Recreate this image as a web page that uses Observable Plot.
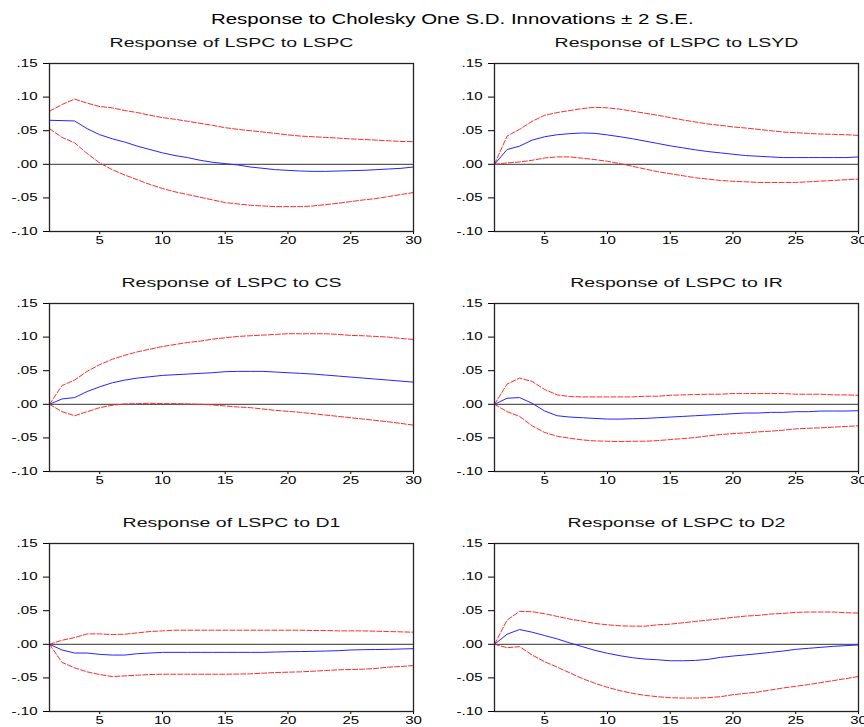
<!DOCTYPE html>
<html><head><meta charset="utf-8">
<script src="https://cdn.jsdelivr.net/npm/d3@7"></script>
<script src="https://cdn.jsdelivr.net/npm/@observablehq/plot@0.6"></script>
<style>
body{margin:0;background:#fff;}
#root{position:relative;width:864px;height:727px;overflow:hidden;font-family:"Liberation Sans",Arial,sans-serif;background:#fff;}
#title{position:absolute;top:12px;left:0;width:905px;text-align:center;font-size:14px;line-height:14px;color:#000;white-space:nowrap;}
#title span{display:inline-block;transform:scaleX(1.46);transform-origin:center;}
.panel{position:absolute;}
</style></head><body>
<div id="root"><div id="title"><span>Response to Cholesky One S.D. Innovations ± 2 S.E.</span></div></div>
<script>
const periods = d3.range(1, 31);
const panelTitles = ["Response of LSPC to LSPC","Response of LSPC to LSYD","Response of LSPC to CS","Response of LSPC to IR","Response of LSPC to D1","Response of LSPC to D2"];
const xTicks = [5,10,15,20,25,30];
const yTicks = [-0.10,-0.05,0,0.05,0.10,0.15];
const yTickLabels = ["-.10","-.05",".00",".05",".10",".15"];

const lspc_resp  = [0.0655,0.065,0.0645,0.053,0.044,0.038,0.033,0.027,0.022,0.017,0.013,0.010,0.006,0.003,0.001,-0.001,-0.004,-0.006,-0.008,-0.009,-0.010,-0.0105,-0.0105,-0.010,-0.0095,-0.009,-0.008,-0.007,-0.006,-0.004];
const lspc_upper = [0.079,0.089,0.097,0.091,0.086,0.084,0.080,0.077,0.073,0.0695,0.067,0.064,0.061,0.058,0.0545,0.052,0.050,0.048,0.046,0.0437,0.042,0.041,0.040,0.039,0.0377,0.037,0.036,0.035,0.034,0.0337];
const lspc_lower = [0.053,0.040,0.032,0.016,0.002,-0.008,-0.016,-0.023,-0.030,-0.036,-0.041,-0.045,-0.049,-0.053,-0.057,-0.059,-0.061,-0.062,-0.063,-0.063,-0.063,-0.062,-0.060,-0.058,-0.0555,-0.053,-0.051,-0.048,-0.045,-0.042];

const lsyd_resp  = [0,0.022,0.027,0.036,0.041,0.044,0.0456,0.0466,0.046,0.0437,0.041,0.038,0.0345,0.031,0.0275,0.0245,0.0215,0.019,0.017,0.015,0.013,0.012,0.011,0.010,0.010,0.010,0.010,0.010,0.010,0.011];
const lsyd_upper = [0,0.042,0.052,0.064,0.073,0.077,0.080,0.083,0.0848,0.084,0.082,0.079,0.076,0.073,0.0695,0.066,0.063,0.060,0.058,0.0556,0.054,0.052,0.050,0.048,0.047,0.046,0.045,0.0445,0.044,0.043];
const lsyd_lower = [0,0.002,0.0035,0.006,0.0094,0.011,0.011,0.009,0.007,0.0045,0.001,-0.003,-0.007,-0.011,-0.014,-0.017,-0.020,-0.022,-0.024,-0.0253,-0.026,-0.027,-0.027,-0.027,-0.027,-0.026,-0.025,-0.024,-0.023,-0.022];

const cs_resp  = [0,0.008,0.010,0.019,0.026,0.032,0.036,0.039,0.041,0.043,0.044,0.045,0.046,0.047,0.0485,0.049,0.049,0.049,0.048,0.047,0.046,0.045,0.0435,0.042,0.0405,0.039,0.0375,0.036,0.0345,0.033];
const cs_upper = [0,0.028,0.036,0.049,0.059,0.067,0.073,0.078,0.082,0.086,0.089,0.092,0.094,0.097,0.099,0.101,0.102,0.103,0.104,0.105,0.105,0.105,0.105,0.104,0.1025,0.102,0.101,0.100,0.098,0.0965];
const cs_lower = [0,-0.011,-0.017,-0.011,-0.005,-0.0015,0.0005,0.001,0.0015,0.001,0.001,0.0005,0,-0.001,-0.0025,-0.004,-0.005,-0.007,-0.009,-0.0105,-0.012,-0.014,-0.016,-0.018,-0.020,-0.022,-0.024,-0.026,-0.0285,-0.031];

const ir_resp  = [0,0.009,0.010,0.0015,-0.010,-0.017,-0.019,-0.020,-0.021,-0.022,-0.022,-0.0215,-0.021,-0.020,-0.019,-0.018,-0.017,-0.016,-0.015,-0.014,-0.013,-0.013,-0.012,-0.012,-0.011,-0.011,-0.010,-0.010,-0.010,-0.0095];
const ir_upper = [0,0.030,0.039,0.034,0.022,0.014,0.0115,0.011,0.011,0.011,0.011,0.011,0.012,0.012,0.0134,0.014,0.0145,0.015,0.015,0.016,0.016,0.016,0.016,0.016,0.015,0.015,0.015,0.014,0.014,0.0134];
const ir_lower = [0,-0.011,-0.018,-0.032,-0.042,-0.0475,-0.0505,-0.053,-0.0545,-0.055,-0.0555,-0.055,-0.055,-0.054,-0.0525,-0.051,-0.0495,-0.047,-0.045,-0.0436,-0.0425,-0.041,-0.040,-0.0385,-0.0366,-0.0357,-0.035,-0.034,-0.033,-0.032];

const d1_resp  = [0,-0.0085,-0.013,-0.013,-0.015,-0.016,-0.016,-0.014,-0.013,-0.012,-0.012,-0.012,-0.012,-0.012,-0.012,-0.012,-0.012,-0.012,-0.0115,-0.011,-0.0108,-0.0105,-0.010,-0.0095,-0.0085,-0.008,-0.0078,-0.0075,-0.007,-0.0065];
const d1_upper = [0,0.006,0.010,0.0155,0.0155,0.0145,0.015,0.017,0.019,0.020,0.021,0.021,0.021,0.021,0.021,0.021,0.021,0.021,0.021,0.021,0.021,0.0205,0.0205,0.020,0.020,0.020,0.0195,0.019,0.0185,0.018];
const d1_lower = [0,-0.027,-0.035,-0.041,-0.045,-0.048,-0.047,-0.046,-0.045,-0.0445,-0.0445,-0.0445,-0.0445,-0.0445,-0.0445,-0.0443,-0.044,-0.043,-0.042,-0.0415,-0.041,-0.040,-0.039,-0.038,-0.0375,-0.037,-0.036,-0.034,-0.033,-0.0317];

const d2_resp  = [0,0.015,0.022,0.018,0.013,0.008,0.002,-0.0035,-0.009,-0.0134,-0.017,-0.020,-0.022,-0.023,-0.0245,-0.0245,-0.024,-0.0225,-0.0195,-0.0175,-0.0158,-0.014,-0.012,-0.010,-0.0075,-0.006,-0.0045,-0.003,-0.002,-0.001];
const d2_upper = [0,0.036,0.049,0.0485,0.0455,0.0415,0.0375,0.0345,0.031,0.029,0.0275,0.027,0.027,0.029,0.030,0.032,0.034,0.036,0.038,0.040,0.042,0.043,0.045,0.046,0.0475,0.048,0.048,0.048,0.047,0.0465];
const d2_lower = [0,-0.005,-0.0035,-0.016,-0.026,-0.034,-0.0425,-0.051,-0.058,-0.064,-0.069,-0.073,-0.076,-0.078,-0.0795,-0.080,-0.080,-0.0795,-0.078,-0.075,-0.073,-0.071,-0.068,-0.065,-0.0625,-0.060,-0.057,-0.054,-0.051,-0.048];

const series = [
  [lspc_resp, lspc_upper, lspc_lower],
  [lsyd_resp, lsyd_upper, lsyd_lower],
  [cs_resp, cs_upper, cs_lower],
  [ir_resp, ir_upper, ir_lower],
  [d1_resp, d1_upper, d1_lower],
  [d2_resp, d2_upper, d2_lower]
];

const root = document.getElementById("root");
const labelMap = new Map(yTicks.map((v, i) => [v, yTickLabels[i]]));

series.forEach(([resp, upper, lower], i) => {
  const col = i % 2, row = Math.floor(i / 2);
  const data = periods.map((p, k) => ({p, resp: resp[k], upper: upper[k], lower: lower[k]}));
  const h = row === 2 ? 216 : 240;
  const plot = Plot.plot({
    width: 432, height: h,
    marginLeft: col === 0 ? 49 : 62,
    marginRight: col === 0 ? 19 : 6,
    marginTop: 33,
    marginBottom: h - 33 - 168,
    style: {fontFamily: "'Liberation Sans', Arial, sans-serif", fontSize: "10px", color: "#000", background: "transparent", overflow: "visible"},
    x: {domain: [1, 30], ticks: xTicks, tickSize: 3, tickPadding: 2, label: null},
    y: {domain: [-0.10, 0.15], ticks: yTicks, tickSize: 6, tickPadding: 6, label: null, tickFormat: d => labelMap.get(Math.round(d * 100) / 100)},
    marks: [
      Plot.ruleY([0], {stroke: "#333", strokeWidth: 1}),
      Plot.line(data, {x: "p", y: "upper", stroke: "#ff2a2a", strokeWidth: 1, strokeDasharray: "5,2"}),
      Plot.line(data, {x: "p", y: "lower", stroke: "#ff2a2a", strokeWidth: 1, strokeDasharray: "5,2"}),
      Plot.line(data, {x: "p", y: "resp", stroke: "#2424ff", strokeWidth: 1}),
      Plot.frame({stroke: "#222", strokeWidth: 1.3}),
      Plot.text([panelTitles[i]], {text: d => d, frameAnchor: "top", lineAnchor: "middle", dy: -21, fontSize: 12.5, fontWeight: "normal", fill: "#111"})
    ]
  });
  plot.classList.add("panel");
  plot.style.left = (col * 432) + "px";
  plot.style.top = (30 + row * 240) + "px";
  root.appendChild(plot);
});

// stretch text horizontally like the reference rendering
root.querySelectorAll("svg text").forEach(t => {
  const w = t.getComputedTextLength();
  if (w > 0) {
    const f = t.textContent.length > 6 ? 1.56 : 1.5;
    t.setAttribute("textLength", (w * f).toFixed(1));
    t.setAttribute("lengthAdjust", "spacingAndGlyphs");
  }
});
</script>
</body></html>
